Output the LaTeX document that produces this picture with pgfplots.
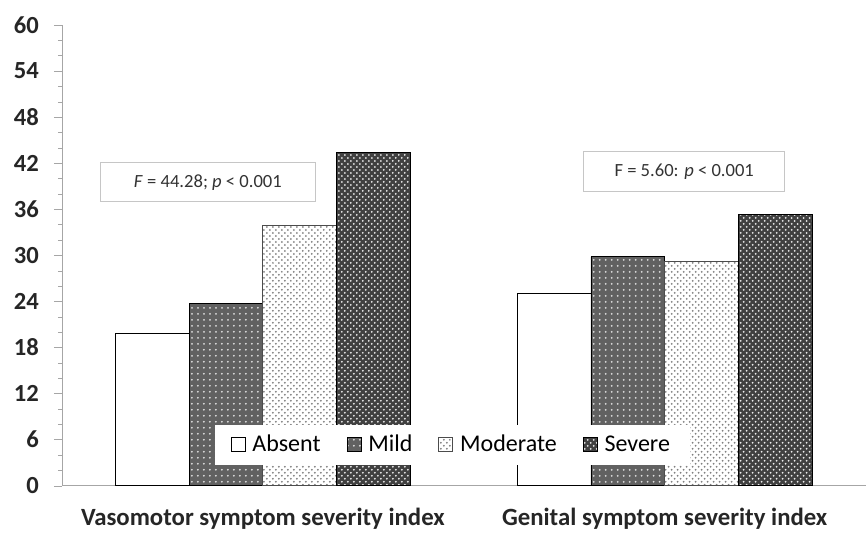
\documentclass[border=0pt]{standalone}
\usepackage{pgfplots}
\pgfplotsset{compat=1.18}
\usepackage{fontspec}
\setmainfont{Carlito}
\usetikzlibrary{patterns}
\begin{document}
\begin{tikzpicture}
\begin{axis}[
  scale only axis,
  width=402pt, height=230.5pt,
  clip=false,
  ybar=0pt, bar width=0.1835,
  xmin=-0.5, xmax=1.5,
  ymin=0, ymax=60,
  ytick={0,6,...,60},
  minor y tick num=2,
  xtick={0,1},
  xticklabels={Vasomotor symptom severity index, Genital symptom severity index},
  extra x ticks={0.5}, extra x tick labels={},
  extra x tick style={major tick length=3pt, tick style={draw=gray!70}},
  axis x line*=bottom, axis y line*=left,
  axis line style={gray!70},
  tick align=outside,
  x tick style={draw=none},
  y tick style={gray!70},
  major tick length=4pt, minor tick length=2pt,
  yticklabel style={font=\bfseries\fontsize{12.3}{14}\selectfont, text=black!85, xshift=-4pt},
  xticklabel style={font=\bfseries\fontsize{12.4}{14}\selectfont, text=black!85, yshift=-3.5pt},
  /pgf/number format/assume math mode=true,
  legend columns=4,
  legend style={at={(0.4857,0.089)}, anchor=center, draw=none, fill=white,
    font=\fontsize{12}{14}\selectfont, /tikz/every even column/.append style={column sep=11pt},
    inner xsep=8pt, inner ysep=3pt},
  legend image code/.code={\draw[#1] (0pt,-3.5pt) rectangle (7pt,3.5pt); \path (8.5pt,0pt);},
]
\addplot[fill=white, draw=black] coordinates {(0,19.9) (1,25.1)};
\addplot[fill=black!62, draw=black, postaction={pattern=dots, pattern color=white!75!gray}] coordinates {(0,23.7) (1,29.8)};
\addplot[fill=white, draw=black!70, postaction={pattern=crosshatch dots, pattern color=gray}] coordinates {(0,33.85) (1,29.2)};
\addplot[fill=black!75, draw=black, postaction={pattern=crosshatch dots, pattern color=white!85!gray}] coordinates {(0,43.4) (1,35.3)};
\legend{Absent, Mild, Moderate, Severe}
\node[draw=gray!45, fill=white, minimum width=108pt, minimum height=19.5pt, font=\fontsize{9.3}{11}\selectfont, text=black!80] at (rel axis cs:0.1816,0.6584) {\textit{F} = 44.28; \textit{p} < 0.001};
\node[draw=gray!45, fill=white, minimum width=100.5pt, minimum height=20.5pt, font=\fontsize{9.3}{11}\selectfont, text=black!80] at (rel axis cs:0.7743,0.6822) {F = 5.60: \textit{p} < 0.001};
\path (rel axis cs:-0.0771,-0.0954) rectangle (rel axis cs:1,1.0542);
\end{axis}
\end{tikzpicture}
\end{document}
